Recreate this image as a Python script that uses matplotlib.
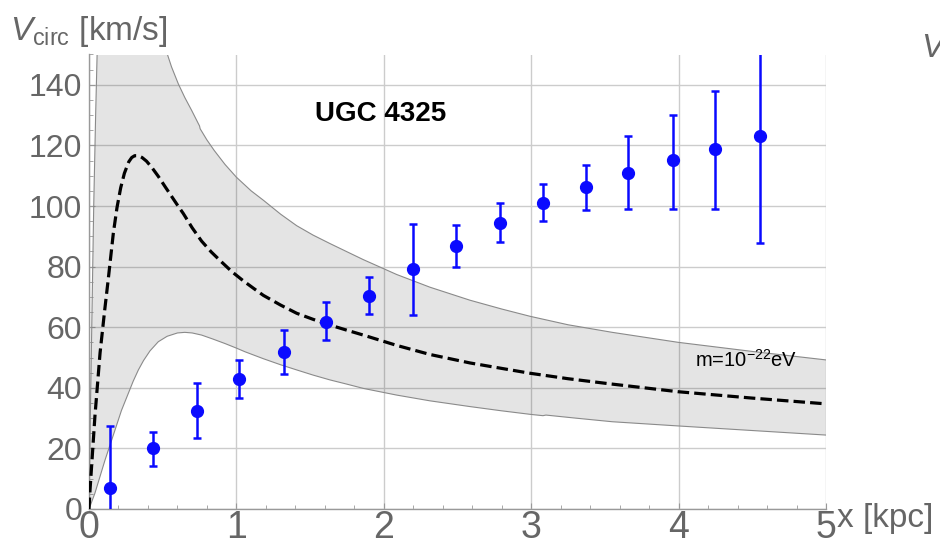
import numpy as np
import matplotlib.pyplot as plt

plt.rcParams['font.family'] = ['Liberation Sans', 'DejaVu Sans']
plt.rcParams['mathtext.fontset'] = 'custom'
plt.rcParams['mathtext.rm'] = 'Liberation Sans'
plt.rcParams['mathtext.it'] = 'Liberation Sans:italic'
plt.rcParams['mathtext.bf'] = 'Liberation Sans:bold'

# observed rotation curve of UGC 4325
r_obs = [0.14, 0.435, 0.73, 1.02, 1.32, 1.61, 1.90, 2.20, 2.49, 2.79, 3.08, 3.37, 3.66, 3.96, 4.25, 4.55]
v_obs = [6.9, 20.1, 32.3, 42.8, 51.9, 61.8, 70.4, 79.1, 86.7, 94.3, 100.9, 106.2, 110.9, 115.2, 118.8, 123.1]
err_up = [20.4, 5.3, 9.3, 6.4, 7.2, 6.4, 6.3, 15.1, 7.0, 6.8, 6.3, 7.3, 12.2, 14.8, 19.2, 35.3]
err_lo = [20.4, 5.9, 8.9, 6.2, 7.3, 5.9, 5.9, 15.0, 6.7, 6.3, 5.9, 7.4, 11.9, 16.2, 19.8, 35.3]

# soliton model, m = 1e-22 eV
r_sol = [0.0, 0.007, 0.04, 0.075, 0.105, 0.131, 0.165, 0.19, 0.215, 0.24, 0.27, 0.29,
         0.31, 0.335, 0.36, 0.39, 0.425, 0.47, 0.516, 0.56, 0.6, 0.64, 0.7, 0.764, 0.83,
         0.9, 0.97, 1.047, 1.12, 1.183, 1.3, 1.409, 1.52, 1.635, 1.75, 1.861, 2.087,
         2.313, 2.585, 2.8, 2.992, 3.25, 3.535, 3.998, 4.5, 5.0]
v_sol = [0.0, 6.3, 30.5, 51.5, 65.0, 76.0, 91.0, 99.5, 106.0, 110.8, 114.6, 116.0,
         116.6, 116.6, 116.0, 114.8, 112.8, 109.8, 106.4, 103.2, 100.3, 97.5, 92.8, 88.4, 84.8,
         81.5, 78.3, 75.3, 72.7, 70.5, 67.3, 64.6, 62.6, 60.7, 59.0, 57.4, 54.0,
         51.0, 48.2, 46.4, 44.8, 43.0, 41.3, 38.7, 36.6, 34.7]

# band edges
r_hi = [0.0, 0.012, 0.022, 0.032, 0.045, 0.055, 0.065, 0.47, 0.522, 0.56, 0.606, 0.65,
        0.697, 0.75, 0.754, 0.8, 0.85, 0.923, 1.0, 1.1, 1.183, 1.3, 1.409, 1.52, 1.635,
        1.75, 1.861, 2.087, 2.313, 2.585, 2.8, 2.992, 3.25, 3.55, 3.998, 4.5, 5.0]
v_hi = [0.0, 40.0, 70.0, 100.0, 130.0, 150.0, 160.0, 160.0, 151.5, 145.9, 140.3, 135.8,
        131.5, 126.4, 125.5, 121.8, 118.3, 113.7, 109.5, 105.0, 101.9, 97.3, 93.5, 90.4, 87.6,
        84.9, 82.3, 77.4, 73.2, 68.9, 66.0, 63.6, 60.8, 58.3, 55.0, 52.0, 49.2]
r_lo = [0.0, 0.04, 0.109, 0.176, 0.22, 0.267, 0.3, 0.335, 0.37, 0.414, 0.47, 0.53,
        0.6, 0.65, 0.7, 0.764, 0.84, 0.923, 1.0, 1.058, 1.183, 1.3, 1.409, 1.52, 1.635,
        1.75, 1.861, 2.087, 2.313, 2.585, 2.8, 3.0, 3.08, 3.1, 3.3, 3.55, 4.0, 4.5, 5.0]
v_lo = [0.0, 5.2, 16.2, 26.0, 32.5, 38.2, 42.2, 45.9, 49.0, 52.2, 55.2, 57.0,
        58.1, 58.3, 58.1, 57.4, 56.1, 54.6, 53.1, 51.9, 49.6, 47.6, 45.9, 44.2, 42.6,
        41.2, 39.8, 37.6, 35.7, 33.8, 32.4, 31.2, 30.8, 31.0, 30.0, 28.8, 27.4, 25.9, 24.4]

grey = '#666666'
axis_grey = '#999999'

fig = plt.figure(figsize=(9.4, 5.49), dpi=100)
ax = fig.add_axes([89 / 940, 40 / 549, 737 / 940, 454.5 / 549])

# shaded range of the model
band_x = np.r_[r_hi, r_lo[::-1]]
band_y = np.r_[v_hi, v_lo[::-1]]
ax.fill(band_x, band_y, color='black', alpha=0.105, lw=0, zorder=2)
ax.plot(r_hi, v_hi, color='#8a8a8a', lw=0.8, zorder=3)
ax.plot(r_lo, v_lo, color='#8a8a8a', lw=0.8, zorder=3)

ax.plot(r_sol, v_sol, color='black', lw=2.3, ls=(0, (3.6, 1.6)), zorder=4)

ax.errorbar(r_obs, v_obs, yerr=[err_lo, err_up], fmt='o', color='#0a0aff',
            ms=8.5, elinewidth=1.8, capsize=2.6, capthick=1.8, zorder=5)

ax.set_xlim(0, 5)
ax.set_ylim(0, 150)
ax.set_xticks(np.arange(0, 6, 1))
ax.set_xticks(np.arange(0, 5.01, 0.2), minor=True)
ax.set_yticks(np.arange(0, 141, 20))
ax.set_yticks(np.arange(0, 151, 5), minor=True)
ax.grid(True, which='major', color='#cccccc', lw=1.0, zorder=0)
ax.set_axisbelow(True)

for side in ['top', 'right']:
    ax.spines[side].set_visible(False)
for side in ['left', 'bottom']:
    ax.spines[side].set_color(axis_grey)
    ax.spines[side].set_linewidth(1.0)

ax.tick_params(axis='both', which='both', direction='in', color=axis_grey, labelcolor=grey)
ax.tick_params(axis='both', which='major', length=4.5, width=0.8)
ax.tick_params(axis='both', which='minor', length=2.6, width=0.6)
ax.tick_params(axis='x', which='major', labelsize=27, pad=1)
ax.tick_params(axis='y', which='major', labelsize=23, pad=5)

ax.text(1.98, 130.4, 'UGC 4325', fontsize=20, fontweight='bold', ha='center', va='center')
ax.text(4.11, 46.8, r'm=10$^{-22}$eV', fontsize=14.5, ha='left', va='baseline')

fig.text(10 / 940, 1 - 40 / 549, r'$V_{\mathrm{circ}}$ [km/s]', fontsize=24, color=grey,
         ha='left', va='baseline')
fig.text(837 / 940, 1 - 527 / 549, 'x [kpc]', fontsize=24, color=grey,
         ha='left', va='baseline')
fig.text(921 / 940, 1 - 57 / 549, r'$V$', fontsize=24, color=grey, ha='left', va='baseline')

fig.savefig('out.png', dpi=100)
